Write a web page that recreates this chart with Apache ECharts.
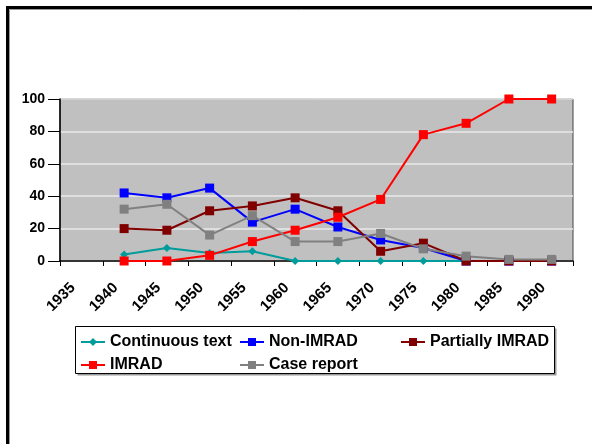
<!DOCTYPE html>
<html>
<head>
<meta charset="utf-8">
<style>
  html, body { margin: 0; padding: 0; background: #fff; }
  #chart { width: 592px; height: 444px; }
</style>
<script src="https://cdn.jsdelivr.net/npm/echarts@6/dist/echarts.min.js"></script>
</head>
<body>
<div id="chart"></div>
<script>
const years = ['1935', '1940', '1945', '1950', '1955', '1960', '1965', '1970', '1975', '1980', '1985', '1990']
const continuousText = [null, 4, 8, 5, 6, 0, 0, 0, 0, 0, 0, 0]
const nonImrad = [null, 42, 39, 45, 24, 32, 21, 13, 8, 0, 0, 0]
const partiallyImrad = [null, 20, 19, 31, 34, 39, 31, 6, 11, 0, 0, 0]
const imrad = [null, 0, 0, 3.5, 12, 19, 27, 38, 78, 85, 100, 100]
const caseReport = [null, 32, 35, 16, 28, 12, 12, 17, 7.5, 3, 1, 1]
const yTicks = [0, 20, 40, 60, 80, 100]

const font = '"Liberation Sans", Arial, sans-serif'

const chart = echarts.init(document.getElementById('chart'))

function makeSeries(name, data, color, symbol, size) {
  return {
    name: name,
    type: 'line',
    data: data,
    color: color,
    symbol: symbol,
    symbolSize: size,
    showAllSymbol: true,
    connectNulls: false,
    lineStyle: { width: 2, color: color },
    itemStyle: { color: color },
    emphasis: { disabled: true },
    animation: false
  }
}

function legendAt(name, left, top) {
  return {
    data: [name],
    left: left,
    top: top,
    padding: 0,
    itemWidth: 24,
    itemHeight: 10,
    textStyle: { fontFamily: font, fontWeight: 'bold', fontSize: 16, color: '#000' },
    selectedMode: false
  }
}

chart.setOption({
  animation: false,
  backgroundColor: '#fff',
  graphic: [
    {
      type: 'rect',
      shape: { x: 7.5, y: 7.5, width: 700, height: 600 },
      style: { fill: 'none', stroke: '#000', lineWidth: 3 },
      z: 100
    },
    {
      type: 'rect',
      shape: { x: 9.5, y: 9.5, width: 700, height: 600 },
      style: { fill: 'none', stroke: '#999', lineWidth: 1 },
      z: 100
    },
    {
      type: 'rect',
      shape: { x: 77.5, y: 328.5, width: 479, height: 47 },
      style: { fill: '#999' },
      z: -1
    },
    {
      type: 'rect',
      shape: { x: 75.5, y: 326.5, width: 479, height: 47 },
      style: { fill: '#fff', stroke: '#000', lineWidth: 1 },
      z: 0
    }
  ],
  legend: [
    legendAt('Continuous text', 80, 334),
    legendAt('Non-IMRAD', 239, 334),
    legendAt('Partially IMRAD', 400, 334),
    legendAt('IMRAD', 80, 357),
    legendAt('Case report', 239, 357)
  ],
  grid: {
    left: 60,
    right: 19,
    top: 99,
    bottom: 183,
    show: true,
    backgroundColor: '#C0C0C0',
    borderColor: '#444',
    borderWidth: 1
  },
  xAxis: {
    type: 'category',
    data: years,
    boundaryGap: true,
    axisLine: { lineStyle: { color: '#000', width: 1.5 } },
    axisTick: { show: true, length: 5, lineStyle: { color: '#000' } },
    axisLabel: {
      rotate: 45,
      margin: 16,
      padding: [0, 12, 0, 0],
      interval: 0,
      fontFamily: font,
      fontWeight: 'bold',
      fontSize: 15,
      color: '#000'
    },
    splitLine: { show: false }
  },
  yAxis: {
    type: 'value',
    min: yTicks[0],
    max: yTicks[yTicks.length - 1],
    interval: 20,
    axisLine: { show: true, lineStyle: { color: '#000', width: 1.5 } },
    axisTick: { show: true, length: 12, lineStyle: { color: '#000' } },
    axisLabel: {
      margin: 15,
      fontFamily: font,
      fontWeight: 'bold',
      fontSize: 14,
      color: '#000'
    },
    splitLine: { show: true, lineStyle: { color: '#EAEAEA', width: 1.5 } }
  },
  series: [
    makeSeries('Continuous text', continuousText, '#009C9C', 'diamond', 8),
    makeSeries('Non-IMRAD', nonImrad, '#0000FF', 'rect', 9),
    makeSeries('Partially IMRAD', partiallyImrad, '#800000', 'rect', 9),
    makeSeries('IMRAD', imrad, '#FF0000', 'rect', 9),
    makeSeries('Case report', caseReport, '#808080', 'rect', 9)
  ]
})
</script>
</body>
</html>
